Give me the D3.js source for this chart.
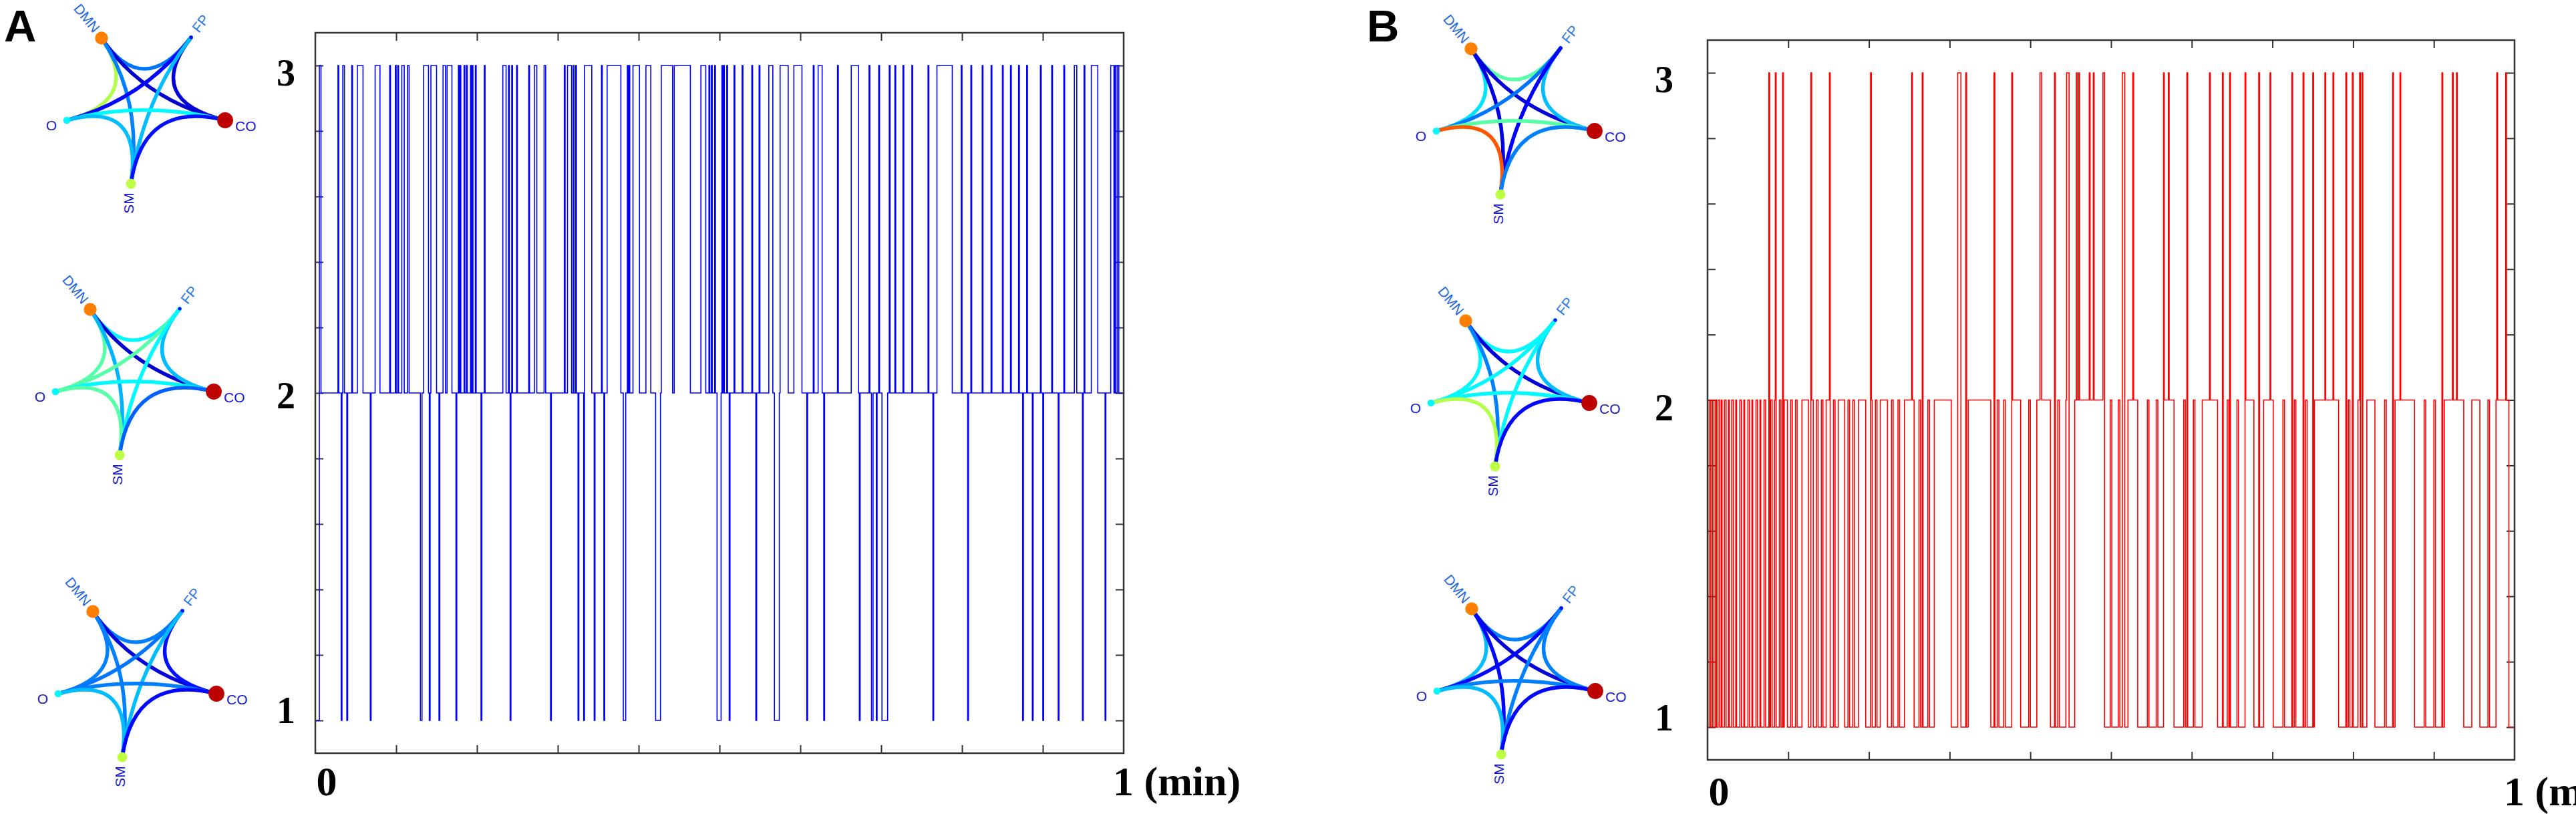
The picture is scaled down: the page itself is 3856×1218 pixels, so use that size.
<!DOCTYPE html>
<html><head><meta charset="utf-8">
<script src="https://cdn.jsdelivr.net/npm/d3@7"></script>
<style>body{margin:0;background:#fff}svg{display:block}</style>
</head><body><svg id="c" width="3856" height="1218"></svg>
<script>
// ---------------- DATA ----------------
const nodeNames = ["DMN","FP","CO","SM","O"];
const nodeValues = [0.75, 0.13, 0.94, 0.56, 0.37];   // jet value (colour + size)
const edgePairs = [["DMN","FP"],["DMN","O"],["DMN","CO"],["DMN","SM"],["FP","O"],["FP","CO"],["FP","SM"],["O","CO"],["O","SM"],["CO","SM"]];
// edge strengths (jet value) for each state icon, in edgePairs order
const edgesA_state3 = [0.24,0.55,0.07,0.25,0.13,0.08,0.31,0.37,0.31,0.14];
const edgesA_state2 = [0.37,0.46,0.07,0.30,0.46,0.31,0.37,0.37,0.46,0.22];
const edgesA_state1 = [0.25,0.25,0.08,0.25,0.24,0.14,0.31,0.25,0.31,0.13];
const edgesB_state3 = [0.46,0.35,0.08,0.09,0.24,0.31,0.12,0.46,0.79,0.25];
const edgesB_state2 = [0.37,0.37,0.08,0.25,0.37,0.31,0.37,0.37,0.55,0.13];
const edgesB_state1 = [0.25,0.31,0.08,0.13,0.13,0.25,0.25,0.25,0.31,0.13];

const stateTicks = [1,2,3];
const xTickLabels = ["0","1 (min)"];

// Panel A: base state 2; intervals (minutes) spent in state 3 and state 1
const aState3 = [[0.005,0.007],[0.028,0.029],[0.034,0.036],[0.045,0.046],[0.052,0.059],[0.074,0.080],[0.092,0.093],[0.099,0.100],[0.102,0.103],[0.107,0.110],[0.114,0.116],[0.134,0.140],[0.143,0.150],[0.158,0.161],[0.163,0.169],[0.177,0.178],[0.179,0.180],[0.184,0.185],[0.187,0.188],[0.192,0.193],[0.194,0.195],[0.198,0.199],[0.209,0.210],[0.232,0.236],[0.239,0.240],[0.243,0.244],[0.249,0.250],[0.264,0.265],[0.271,0.274],[0.283,0.285],[0.308,0.309],[0.312,0.317],[0.319,0.320],[0.322,0.323],[0.333,0.342],[0.354,0.355],[0.361,0.378],[0.386,0.387],[0.388,0.389],[0.393,0.401],[0.409,0.415],[0.428,0.442],[0.444,0.464],[0.477,0.483],[0.487,0.488],[0.490,0.491],[0.494,0.495],[0.503,0.504],[0.505,0.506],[0.509,0.510],[0.518,0.519],[0.528,0.529],[0.540,0.541],[0.549,0.550],[0.561,0.566],[0.575,0.585],[0.592,0.602],[0.616,0.617],[0.622,0.627],[0.646,0.647],[0.663,0.672],[0.685,0.686],[0.697,0.698],[0.710,0.711],[0.717,0.718],[0.727,0.728],[0.738,0.739],[0.758,0.759],[0.769,0.788],[0.799,0.800],[0.811,0.812],[0.825,0.826],[0.836,0.837],[0.850,0.851],[0.860,0.861],[0.870,0.871],[0.880,0.881],[0.897,0.898],[0.911,0.912],[0.926,0.927],[0.939,0.942],[0.951,0.952],[0.960,0.968],[0.984,0.988],[0.989,0.990],[0.992,0.994]];
const aState1 = [[0.000,0.005],[0.032,0.033],[0.039,0.040],[0.068,0.069],[0.130,0.132],[0.141,0.142],[0.153,0.154],[0.174,0.175],[0.205,0.206],[0.241,0.242],[0.291,0.292],[0.325,0.326],[0.332,0.333],[0.345,0.346],[0.357,0.358],[0.381,0.384],[0.421,0.427],[0.497,0.502],[0.512,0.513],[0.545,0.546],[0.568,0.574],[0.608,0.609],[0.629,0.630],[0.673,0.674],[0.688,0.690],[0.694,0.695],[0.701,0.708],[0.764,0.765],[0.807,0.808],[0.875,0.876],[0.887,0.888],[0.900,0.901],[0.919,0.920],[0.949,0.950],[0.977,0.978]];

// Panel B: base state 1; intervals spent in state 2 and state 3
const bState2 = [[0.002,0.004],[0.006,0.008],[0.010,0.011],[0.013,0.015],[0.017,0.018],[0.021,0.023],[0.026,0.027],[0.030,0.032],[0.035,0.036],[0.040,0.042],[0.045,0.046],[0.050,0.052],[0.055,0.056],[0.060,0.062],[0.065,0.066],[0.070,0.072],[0.078,0.080],[0.083,0.085],[0.089,0.091],[0.095,0.099],[0.103,0.105],[0.109,0.111],[0.117,0.125],[0.129,0.131],[0.135,0.137],[0.141,0.143],[0.147,0.152],[0.156,0.158],[0.162,0.170],[0.174,0.176],[0.180,0.182],[0.187,0.196],[0.202,0.204],[0.208,0.210],[0.214,0.223],[0.228,0.230],[0.236,0.238],[0.244,0.256],[0.262,0.264],[0.273,0.275],[0.281,0.302],[0.312,0.314],[0.323,0.351],[0.359,0.361],[0.367,0.369],[0.378,0.388],[0.398,0.400],[0.408,0.425],[0.434,0.436],[0.444,0.446],[0.455,0.490],[0.499,0.501],[0.509,0.511],[0.521,0.533],[0.545,0.547],[0.556,0.558],[0.566,0.578],[0.590,0.592],[0.602,0.604],[0.613,0.632],[0.644,0.646],[0.656,0.658],[0.667,0.677],[0.689,0.701],[0.713,0.715],[0.727,0.729],[0.741,0.743],[0.752,0.782],[0.794,0.796],[0.806,0.808],[0.817,0.827],[0.839,0.841],[0.852,0.876],[0.888,0.890],[0.900,0.902],[0.913,0.937],[0.947,0.957],[0.967,0.969],[0.977,0.993]];
const bState3 = [[0.076,0.077],[0.084,0.085],[0.093,0.094],[0.128,0.129],[0.151,0.152],[0.202,0.203],[0.253,0.254],[0.266,0.267],[0.310,0.314],[0.320,0.321],[0.355,0.356],[0.377,0.378],[0.412,0.414],[0.430,0.431],[0.445,0.448],[0.457,0.458],[0.460,0.461],[0.473,0.474],[0.478,0.479],[0.490,0.492],[0.514,0.517],[0.527,0.528],[0.565,0.566],[0.571,0.572],[0.594,0.595],[0.622,0.623],[0.638,0.639],[0.647,0.648],[0.666,0.667],[0.683,0.684],[0.697,0.698],[0.724,0.725],[0.738,0.739],[0.750,0.751],[0.765,0.766],[0.775,0.776],[0.791,0.792],[0.799,0.800],[0.808,0.809],[0.811,0.812],[0.849,0.850],[0.858,0.859],[0.910,0.911],[0.923,0.924],[0.928,0.929],[0.978,0.979],[0.989,0.990]];

// ---------------- LAYOUT / STYLE ----------------
const nodeOffset = {DMN:[0,0], FP:[134,-1], CO:[185,123], SM:[44,218], O:[-52,123]};
const labelStyle = {
  DMN:{dx:-22,dy:-30,rot:51,anchor:"middle",fill:"#2468dc"},
  FP:{dx:14,dy:-21,rot:-52,anchor:"middle",fill:"#2a78e6"},
  CO:{dx:15,dy:8,rot:0,anchor:"start",fill:"#1a1ac8"},
  O:{dx:-15,dy:7,rot:0,anchor:"end",fill:"#1a1ac8"},
  SM:{dx:-4,dy:29,rot:-90,anchor:"middle",fill:"#1a1ac8"}
};
const panels = [
  {letter:"A", letterX:6, letterY:62, frame:{x0:472,x1:1682,y0:49,y1:1127}, color:"#0000ff",
   base:2, layers:[{state:1,iv:aState1},{state:3,iv:aState3}], yLabelRight:442, ylabDy:{1:-15,2:4,3:11},
   xLabY:1190, icons:[{o:[152,57],e:edgesA_state3},{o:[135,463],e:edgesA_state2},{o:[139,915],e:edgesA_state1}]},
  {letter:"B", letterX:2046, letterY:62, frame:{x0:2556,x1:3764,y0:60,y1:1137}, color:"#ff0000",
   base:1, layers:[{state:2,iv:bState2},{state:3,iv:bState3}], yLabelRight:2505, ylabDy:{1:-14,2:11,3:10},
   xLabY:1205, icons:[{o:[2202,73],e:edgesB_state3},{o:[2194,480],e:edgesB_state2},{o:[2203,911],e:edgesB_state1}]}
];

const jet = d3.scaleLinear().domain([0,0.125,0.375,0.625,0.875,1])
  .range(["#00008f","#0000ff","#00ffff","#ffff00","#ff0000","#800000"]).clamp(true);

function buildSteps(base, layers){
  const b = new Set([0,1]);
  layers.forEach(l=>l.iv.forEach(([s,e])=>{b.add(s);b.add(e);}));
  const ts = Array.from(b).sort((p,q)=>p-q);
  const pts=[];
  for(let i=0;i<ts.length-1;i++){
    const m=(ts[i]+ts[i+1])/2; let s=base;
    layers.forEach(l=>{ if(l.iv.some(([a,c])=>m>a&&m<c)) s=l.state; });
    if(!pts.length||pts[pts.length-1][1]!==s) pts.push([ts[i],s]);
  }
  pts.push([1,pts[pts.length-1][1]]);
  return pts;
}

const svg = d3.select("#c");
svg.append("rect").attr("width",3856).attr("height",1218).attr("fill","#fff");

function drawIcon(g, origin, edgeVals){
  const pos = {};
  nodeNames.forEach(n=>{pos[n]=[origin[0]+nodeOffset[n][0], origin[1]+nodeOffset[n][1]];});
  const cx = d3.mean(nodeNames,n=>pos[n][0]), cy = d3.mean(nodeNames,n=>pos[n][1]);
  const ig = g.append("g");
  ig.selectAll("path.edge").data(edgePairs.map((p,i)=>({p,v:edgeVals[i]}))).join("path")
    .attr("class","edge")
    .attr("d",d=>{const a=pos[d.p[0]], b=pos[d.p[1]]; const pth=d3.path(); pth.moveTo(a[0],a[1]); pth.quadraticCurveTo(cx,cy,b[0],b[1]); return pth.toString();})
    .attr("fill","none").attr("stroke",d=>jet(d.v)).attr("stroke-width",5.5).attr("stroke-linecap","round");
  ig.selectAll("circle").data(nodeNames.map((n,i)=>({n,v:nodeValues[i]}))).join("circle")
    .attr("cx",d=>pos[d.n][0]).attr("cy",d=>pos[d.n][1]).attr("r",d=>1+11.6*d.v).attr("fill",d=>jet(d.v));
  ig.selectAll("text").data(nodeNames).join("text")
    .attr("transform",n=>{const s=labelStyle[n]; return `translate(${pos[n][0]+s.dx},${pos[n][1]+s.dy}) rotate(${s.rot})`;})
    .attr("text-anchor",n=>labelStyle[n].anchor).attr("dominant-baseline","central")
    .attr("font-family","Liberation Sans, Arial, sans-serif").attr("font-size",21)
    .attr("fill",n=>labelStyle[n].fill).text(n=>n);
}

panels.forEach(P=>{
  const f=P.frame, g=svg.append("g");
  const x=d3.scaleLinear().domain([0,1]).range([f.x0,f.x1]);
  const y=d3.scaleLinear().domain([0.9,3.1]).range([f.y1,f.y0]);
  const xt=d3.range(1,10).map(i=>i/10), yt=d3.range(0,11).map(i=>+(1+i*0.2).toFixed(1));
  const ax=[[d3.axisBottom(x).tickValues(xt),`translate(0,${f.y1})`],[d3.axisTop(x).tickValues(xt),`translate(0,${f.y0})`],
            [d3.axisLeft(y).tickValues(yt),`translate(${f.x0},0)`],[d3.axisRight(y).tickValues(yt),`translate(${f.x1},0)`]];
  ax.forEach(([a,t])=>{
    const ag=g.append("g").attr("transform",t).call(a.tickSize(-12).tickFormat(""));
    ag.select(".domain").remove();
    ag.selectAll("line").attr("stroke","#333").attr("stroke-width",2);
  });
  const series=buildSteps(P.base,P.layers);
  g.append("path").datum(series).attr("fill","none").attr("stroke",P.color).attr("stroke-width",1.6)
    .attr("d",d3.line().x(d=>x(d[0])).y(d=>y(d[1])).curve(d3.curveStepAfter));
  g.append("rect").attr("x",f.x0).attr("y",f.y0).attr("width",f.x1-f.x0).attr("height",f.y1-f.y0)
    .attr("fill","none").attr("stroke","#333").attr("stroke-width",2.5);
  g.selectAll("text.yl").data(stateTicks).join("text").attr("class","yl")
    .attr("x",P.yLabelRight).attr("y",d=>y(d)+P.ylabDy[d]).attr("text-anchor","end").attr("dominant-baseline","central")
    .attr("font-family","Liberation Serif, Times New Roman, serif").attr("font-weight","bold").attr("font-size",56).text(d=>d);
  g.append("text").attr("x",x(0)+17).attr("y",P.xLabY).attr("text-anchor","middle")
    .attr("font-family","Liberation Serif, Times New Roman, serif").attr("font-weight","bold").attr("font-size",62).text(xTickLabels[0]);
  g.append("text").attr("x",x(1)-16).attr("y",P.xLabY).attr("text-anchor","start")
    .attr("font-family","Liberation Serif, Times New Roman, serif").attr("font-weight","bold").attr("font-size",62).text(xTickLabels[1]);
  g.append("text").attr("x",P.letterX).attr("y",P.letterY).attr("font-family","Liberation Sans, Arial, sans-serif")
    .attr("font-weight","bold").attr("font-size",67).text(P.letter);
  P.icons.forEach(ic=>drawIcon(g,ic.o,ic.e));
});
</script></body></html>
